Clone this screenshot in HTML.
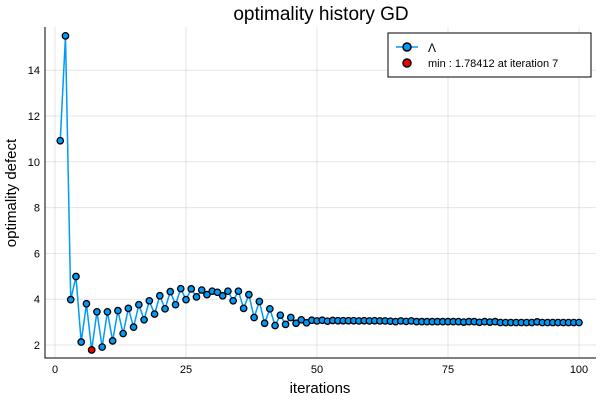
<!DOCTYPE html>
<html><head><meta charset="utf-8"><style>
body{margin:0;background:#fff;font-family:"Liberation Sans","DejaVu Sans",sans-serif}
svg text{font-family:"Liberation Sans","DejaVu Sans",sans-serif}
</style></head><body>
<svg id="chart" width="600" height="400" xmlns="http://www.w3.org/2000/svg">
<rect width="600" height="400" fill="#fff"/>
<g id="grid"></g>
<g id="axes"></g>
<g id="series"></g>
<text x="321" y="20" font-size="19" text-anchor="middle">optimality history GD</text>
<text x="320" y="393" font-size="15" text-anchor="middle">iterations</text>
<text x="16" y="193" font-size="15" text-anchor="middle" transform="rotate(-90 16 193)">optimality defect</text>
<g>
<rect x="388" y="33" width="203" height="44" fill="#fff" stroke="#000" stroke-width="1"/>
<line x1="396" y1="47" x2="418" y2="47" stroke="#009af9" stroke-width="1.5"/>
<circle cx="407" cy="47" r="4" fill="#009af9" stroke="#000" stroke-width="1.5"/>
<text x="428" y="52" font-size="12">Λ</text>
<circle cx="407" cy="63" r="4" fill="#e00" stroke="#000" stroke-width="1.5"/>
<text x="428" y="67" font-size="11">min : 1.78412 at iteration 7</text>
</g>
</svg>
<script>
const iterations=[];for(let i=1;i<=100;i++)iterations.push(i);
const values=[10.92,15.5,3.98,4.99,2.13,3.8,1.78412,3.45,1.91,3.45,2.18,3.5,2.5,3.6,2.78,3.76,3.1,3.93,3.35,4.15,3.58,4.33,3.76,4.46,3.98,4.45,4.1,4.4,4.2,4.35,4.3,4.15,4.35,3.93,4.35,3.6,4.2,3.2,3.9,2.95,3.58,2.85,3.3,2.9,3.2,2.95,3.1,2.97,3.08,3.05,3.08,3.04,3.07,3.06,3.06,3.06,3.06,3.05,3.06,3.05,3.06,3.05,3.05,3.04,3.02,3.05,3.03,3.05,3.02,3.02,3.02,3.02,3.02,3.02,3.02,3.02,3.02,3.0,3.02,3.02,2.99,3.02,3.0,3.02,2.98,2.98,2.98,2.98,2.98,2.98,2.98,3.01,2.98,2.98,2.98,2.98,2.98,2.98,2.98,2.98];
const minIter=[7];const minVal=[1.78412];
const xTicks=[0,25,50,75,100];const yTicks=[2,4,6,8,10,12,14];
const X=v=>55+v*5.24, Y=v=>345-(v-2)*22.9;
const NS="http://www.w3.org/2000/svg";
function mk(t,a,p){const e=document.createElementNS(NS,t);for(const k in a)e.setAttribute(k,a[k]);document.getElementById(p).appendChild(e);return e;}
const L=45,R=596,T=27,B=358;
xTicks.forEach(t=>{const g=mk('line',{x1:X(t),x2:X(t),y1:T,y2:B,stroke:'#000','stroke-opacity':0.1},'grid');


const tx=mk('text',{x:X(t),y:373,'font-size':11,'text-anchor':'middle',fill:'#000'},'axes');tx.textContent=t;

});
yTicks.forEach(t=>{const g=mk('line',{x1:L,x2:R,y1:Y(t),y2:Y(t),stroke:'#000','stroke-opacity':0.1},'grid');


const tx=mk('text',{x:40,y:Y(t)+4,'font-size':11,'text-anchor':'end',fill:'#000'},'axes');tx.textContent=t;

});
const ax=mk('path',{d:`M${L} ${T}V${B}H${R}`,fill:'none',stroke:'#000','stroke-width':1},'axes');


const line=mk('polyline',{points:iterations.map((x,i)=>X(x)+','+Y(values[i])).join(' '),fill:'none',stroke:'#009af9','stroke-width':1.5},'series');


iterations.forEach((x,i)=>{const c=mk('circle',{cx:X(x),cy:Y(values[i]),r:3.2,fill:'#009af9',stroke:'#000','stroke-width':1.3},'series');

});
minIter.forEach((x,i)=>{const c=mk('circle',{cx:X(x),cy:Y(minVal[i]),r:3.2,fill:'#e00',stroke:'#000','stroke-width':1.3},'series');

});
</script>
</body></html>
